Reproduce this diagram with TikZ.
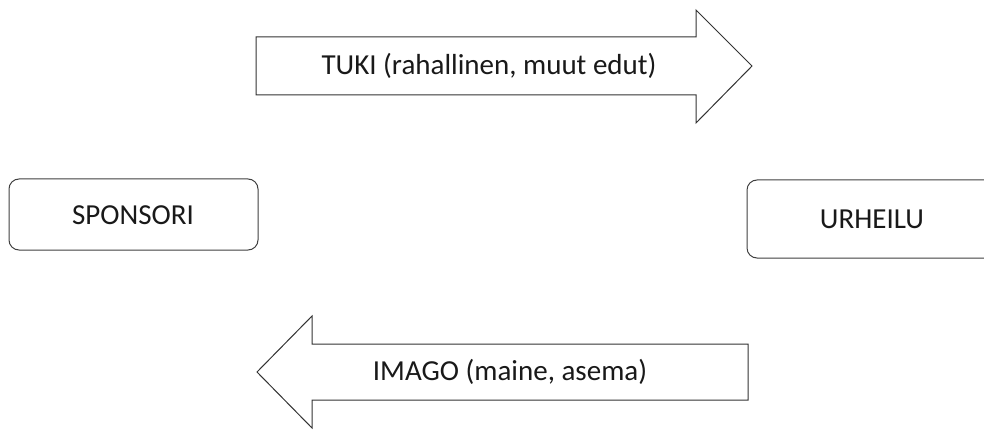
\documentclass[tikz,border=0pt]{standalone}
\usepackage{fontspec}
\setmainfont{Carlito}
\begin{document}
\begin{tikzpicture}[x=1pt,y=-1pt,
  shapeline/.style={draw=black!80, line width=1pt, fill=white, line join=miter},
  boxstyle/.style={draw=black!75, line width=1pt, rounded corners=10pt, fill=white},
  lbl/.style={font=\fontsize{29}{34}\selectfont, text=black!90, inner sep=0pt}]
\useasboundingbox (0,0) rectangle (984,430);
\clip (0,0) rectangle (984,430);
% top arrow
\draw[shapeline] (256,37) -- (696,37) -- (696,10) -- (752,66) -- (696,123) -- (696,95) -- (256,95) -- cycle;
\node[lbl] (tuki) at (489,66) {TUKI (rahallinen, muut edut)};
% bottom arrow
\draw[shapeline] (748,344) -- (312,344) -- (312,316) -- (257,372) -- (312,428) -- (312,400) -- (748,400) -- cycle;
\node[lbl] (imago) at (510,372) {IMAGO (maine, asema)};
% boxes
\draw[boxstyle] (9,179) rectangle (258,250);
\node[lbl] (sponsori) at (133,215) {SPONSORI};
\draw[boxstyle] (747,180) rectangle (995,258);
\node[lbl] (urheilu) at (872,219) {URHEILU};
\end{tikzpicture}
\end{document}
